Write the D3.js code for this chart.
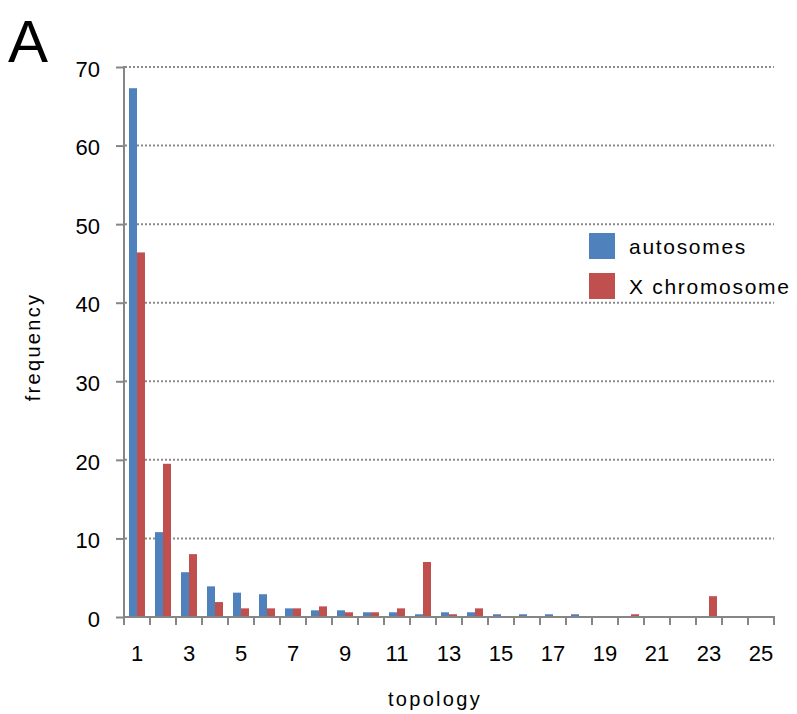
<!DOCTYPE html>
<html lang="en">
<head>
<meta charset="UTF-8">
<title>Topology frequency</title>
<style>
  body { margin: 0; background: #fff; }
  text { font-family: "Liberation Sans", Arial, sans-serif; fill: #000; }
</style>
</head>
<body>
<svg id="chart" width="797" height="714"></svg>
<script src="https://d3js.org/d3.v7.min.js"></script>
<script>
// topology categories 1..25
var topologies = [1,2,3,4,5,6,7,8,9,10,11,12,13,14,15,16,17,18,19,20,21,22,23,24,25];
var autosomes = [67.3,10.8,5.7,3.9,3.1,2.9,1.1,0.85,0.85,0.6,0.6,0.35,0.6,0.6,0.35,0.35,0.35,0.35,0,0,0,0,0,0,0];
var xChromosome = [46.4,19.5,8.0,1.9,1.1,1.1,1.1,1.35,0.6,0.6,1.1,7.0,0.35,1.1,0,0,0,0,0,0.35,0,0,2.65,0,0];
var yTicks = [0,10,20,30,40,50,60,70];
var xTickLabels = [1,3,5,7,9,11,13,15,17,19,21,23,25];
var seriesNames = ["autosomes", "X chromosome"];
var colors = ["#4F81BD", "#C0504D"];

var svg = d3.select("#chart");
var pLeft = 124, pRight = 774, pTop = 67, pBottom = 617;

var x = d3.scaleBand().domain(topologies).range([pLeft, pRight]).paddingInner(0).paddingOuter(0);
var inner = d3.scaleBand().domain([0,1]).range([0, x.bandwidth()]).paddingOuter(0.625).paddingInner(0);
var y = d3.scaleLinear().domain([0,70]).range([pBottom, pTop]);

// dotted gridlines
svg.append("g")
  .selectAll("line")
  .data(yTicks.filter(function(d){ return d > 0; }))
  .enter().append("line")
  .attr("x1", pLeft + 1).attr("x2", pRight)
  .attr("y1", function(d){ return y(d); })
  .attr("y2", function(d){ return y(d); })
  .style("stroke", "#8a8a8a")
  .style("stroke-width", 2)
  .style("stroke-dasharray", "2,2");

// bars
var series = [autosomes, xChromosome];
series.forEach(function(vals, s) {
  svg.append("g")
    .selectAll("rect")
    .data(vals)
    .enter().append("rect")
    .attr("x", function(d, i){ return x(topologies[i]) + inner(s); })
    .attr("width", inner.bandwidth())
    .attr("y", function(d){ return y(d); })
    .attr("height", function(d){ return pBottom - y(d); })
    .style("fill", colors[s]);
});

// y axis
var yAxis = d3.axisLeft(y).tickValues(yTicks).tickSize(8).tickPadding(16);
var gy = svg.append("g").attr("transform", "translate(" + pLeft + ",0)").call(yAxis);
gy.select(".domain").remove();
gy.append("line").attr("x1", 0).attr("x2", 0).attr("y1", pTop - 1).attr("y2", pBottom + 8)
  .style("stroke", "#868686").style("stroke-width", 2);
gy.selectAll(".tick line").style("stroke", "#868686").style("stroke-width", 2);
gy.selectAll(".tick text").style("font-size", "22px").attr("dy", "0.42em")
  .style("font-family", "'Liberation Sans', Arial, sans-serif").style("fill", "#000");

// x axis: ticks at band edges, labels at centers
var xEdges = d3.scaleLinear().domain([0, topologies.length]).range([pLeft, pRight]);
var gx = svg.append("g");
gx.append("line").attr("x1", pLeft).attr("x2", pRight + 1).attr("y1", pBottom).attr("y2", pBottom)
  .style("stroke", "#868686").style("stroke-width", 2);
gx.selectAll(".xt")
  .data(d3.range(1, topologies.length + 1))
  .enter().append("line")
  .attr("x1", function(d){ return xEdges(d); })
  .attr("x2", function(d){ return xEdges(d); })
  .attr("y1", pBottom).attr("y2", pBottom + 8)
  .style("stroke", "#868686").style("stroke-width", 2);
gx.selectAll("text")
  .data(xTickLabels)
  .enter().append("text")
  .attr("x", function(d){ return x(d) + x.bandwidth() / 2; })
  .attr("y", 661)
  .attr("text-anchor", "middle")
  .style("font-size", "22px")
  .text(function(d){ return d; });

// axis titles
svg.append("text")
  .attr("x", 435).attr("y", 706)
  .attr("text-anchor", "middle")
  .style("font-size", "20px").style("letter-spacing", "2.3px")
  .text("topology");
svg.append("text")
  .attr("transform", "translate(40,347) rotate(-90)")
  .attr("text-anchor", "middle")
  .style("font-size", "20px").style("letter-spacing", "2.3px")
  .text("frequency");

// panel letter
svg.append("text")
  .attr("x", 8).attr("y", 62)
  .style("font-size", "60px")
  .text("A");

// legend
var legend = svg.append("g");
seriesNames.forEach(function(name, i) {
  legend.append("rect")
    .attr("x", 589).attr("y", 233 + i * 40)
    .attr("width", 26).attr("height", 26)
    .style("fill", colors[i]);
  legend.append("text")
    .attr("x", 629).attr("y", 254 + i * 40)
    .style("font-size", "21px").style("letter-spacing", "1.7px")
    .text(name);
});
</script>
</body>
</html>
